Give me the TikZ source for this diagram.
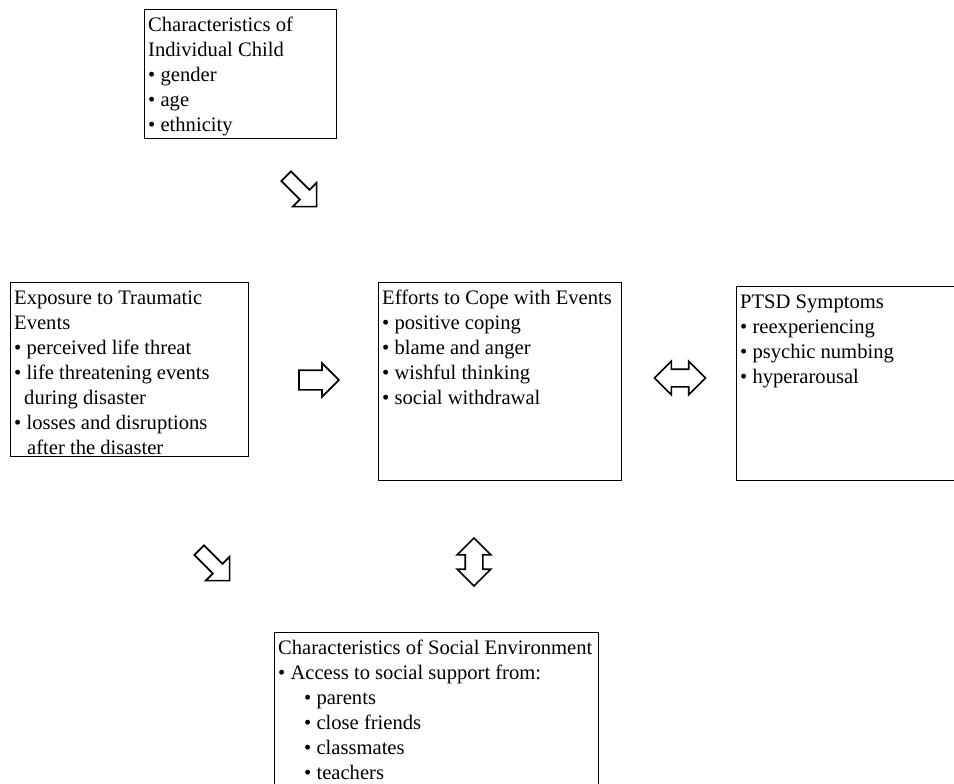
\documentclass[tikz,border=0pt]{standalone}
\usepackage{fontspec}
\setmainfont{Liberation Serif}
\usetikzlibrary{shapes.arrows}
\newcommand{\mystrut}{\rule{0pt}{15pt}}
\begin{document}
\begin{tikzpicture}[x=1pt,y=1pt,
  box/.style={draw, line width=1.3pt, anchor=north west, inner sep=0pt},
  boxtext/.style={anchor=north west, inner sep=0pt, align=left,
    font=\fontsize{20.6pt}{25pt}\selectfont},
  barrow/.style={draw, line width=1.7pt, inner sep=0pt, inner ysep=7pt,
    single arrow, single arrow head extend=8pt, single arrow tip angle=90},
  diagarrow/.style={barrow, inner ysep=6pt, single arrow head extend=10pt,
    minimum height=43pt, rotate=-45},
  dbarrow/.style={draw, line width=1.7pt, inner sep=0pt, inner ysep=8pt,
    double arrow, double arrow head extend=8pt, double arrow tip angle=90}
]
\useasboundingbox (0,0) rectangle (954,-784);
\clip (0,0) rectangle (954,-784);

% boxes
\node[box, minimum width=192pt, minimum height=129pt] (child) at (144,-9) {};
\node[box, minimum width=238pt, minimum height=174pt] (expo) at (10,-282) {};
\node[box, minimum width=243pt, minimum height=198pt] (cope) at (378,-282) {};
\node[box, minimum width=260pt, minimum height=194pt] (ptsd) at (736,-286) {};
\node[box, minimum width=324pt, minimum height=190pt] (social) at (274,-632) {};

% texts
\node[boxtext] (childtxt) at ([shift={(4pt,-7pt)}]child.north west)
  {\mystrut Characteristics of\\ Individual Child\\ \textbullet\ gender\\ \textbullet\ age\\ \textbullet\ ethnicity};
\node[boxtext] (expotxt) at ([shift={(4pt,-7pt)}]expo.north west)
  {\mystrut Exposure to Traumatic\\ Events\\ \textbullet\ perceived life threat\\
   \textbullet\ life threatening events\\ \hspace*{10pt}during disaster\\
   \textbullet\ losses and disruptions\\ \hspace*{13pt}after the disaster};
\node[boxtext] (copetxt) at ([shift={(4pt,-7pt)}]cope.north west)
  {\mystrut Efforts to Cope with Events\\ \textbullet\ positive coping\\ \textbullet\ blame and anger\\
   \textbullet\ wishful thinking\\ \textbullet\ social withdrawal};
\node[boxtext] (ptsdtxt) at ([shift={(4pt,-7pt)}]ptsd.north west)
  {\mystrut PTSD Symptoms\\ \textbullet\ reexperiencing\\ \textbullet\ psychic numbing\\ \textbullet\ hyperarousal};
\node[boxtext] (socialtxt) at ([shift={(4pt,-7pt)}]social.north west)
  {\mystrut Characteristics of Social Environment\\ \textbullet\ Access to social support from:\\
   \hspace*{26pt}\textbullet\ parents\\ \hspace*{26pt}\textbullet\ close friends\\
   \hspace*{26pt}\textbullet\ classmates\\ \hspace*{26pt}\textbullet\ teachers};

% block arrows
\node[diagarrow] (a1) at (299,-189) {};
\node[barrow, inner ysep=9pt, single arrow head extend=7pt, minimum height=40pt] (a2) at (314,-380) {};
\node[dbarrow, minimum height=51pt] (a3) at (680,-378) {};
\node[diagarrow] (a4) at (212,-563) {};
\node[dbarrow, minimum height=48pt, rotate=90] (a5) at (474,-562) {};
\end{tikzpicture}
\end{document}
